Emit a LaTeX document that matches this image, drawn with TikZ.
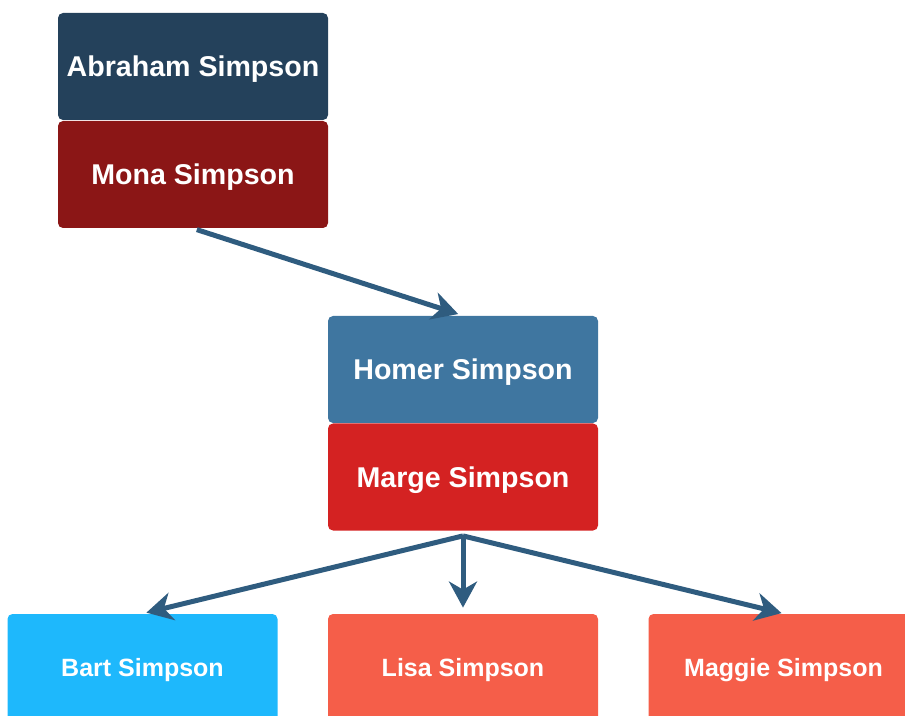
\documentclass[tikz,border=0pt]{standalone}
\usepackage{fontspec}
\setmainfont{Liberation Sans}
\usepackage{xcolor}
\usepackage{tikz}
\usetikzlibrary{positioning}
\usetikzlibrary{arrows.meta}

\definecolor{abecol}{HTML}{24415B}
\definecolor{monacol}{HTML}{8B1616}
\definecolor{homercol}{HTML}{3F76A0}
\definecolor{margecol}{HTML}{D42222}
\definecolor{bartcol}{HTML}{1EB8FC}
\definecolor{girlcol}{HTML}{F55E49}
\definecolor{linkcol}{HTML}{2F5C7F}

\begin{document}
\begin{tikzpicture}[x=0.5pt,y=-0.5pt]
        \tikzset{person/.style = {rounded corners=2.5pt, minimum width=135pt, minimum height=53.5pt, text=white, font=\bfseries\fontsize{14.3}{16}\selectfont, inner sep=0pt, text depth=0pt}}
        \tikzset{child/.style = {person, font=\bfseries\fontsize{12.5}{14}\selectfont}}
        \tikzset{link/.style = {draw=linkcol, line width=2.5pt, -{Stealth[length=13pt,width=14pt,inset=4pt]}}}

        \useasboundingbox (0,0) rectangle (905,716);

        % grandparents
        \node[person, fill=abecol] (abraham) at (193,66.5) {Abraham Simpson};
        \node[person, fill=monacol] (mona) at (193,174.5) {Mona Simpson};

        % parents
        \node[person, fill=homercol] (homer) at (463,369.5) {Homer Simpson};
        \node[person, fill=margecol] (marge) at (463,477) {Marge Simpson};

        % kids
        \node[child, fill=bartcol] (bart) at (142.5,667.5) {Bart Simpson};
        \node[child, fill=girlcol] (lisa) at (463,667.5) {Lisa Simpson};
        \node[child, fill=girlcol] (maggie) at (783.5,667.5) {Maggie Simpson};

        % links
        \coordinate (fork) at ([yshift=-2.5pt]marge.south);
        \draw[link, shorten <=2pt, shorten >=2.5pt] (mona.south) -- (homer.north);
        \draw[link, shorten >=2pt] (fork) -- (bart.north);
        \draw[link, shorten >=3pt] (fork) -- (lisa.north);
        \draw[link, shorten >=1pt] (fork) -- (maggie.north);

\end{tikzpicture}
\end{document}
